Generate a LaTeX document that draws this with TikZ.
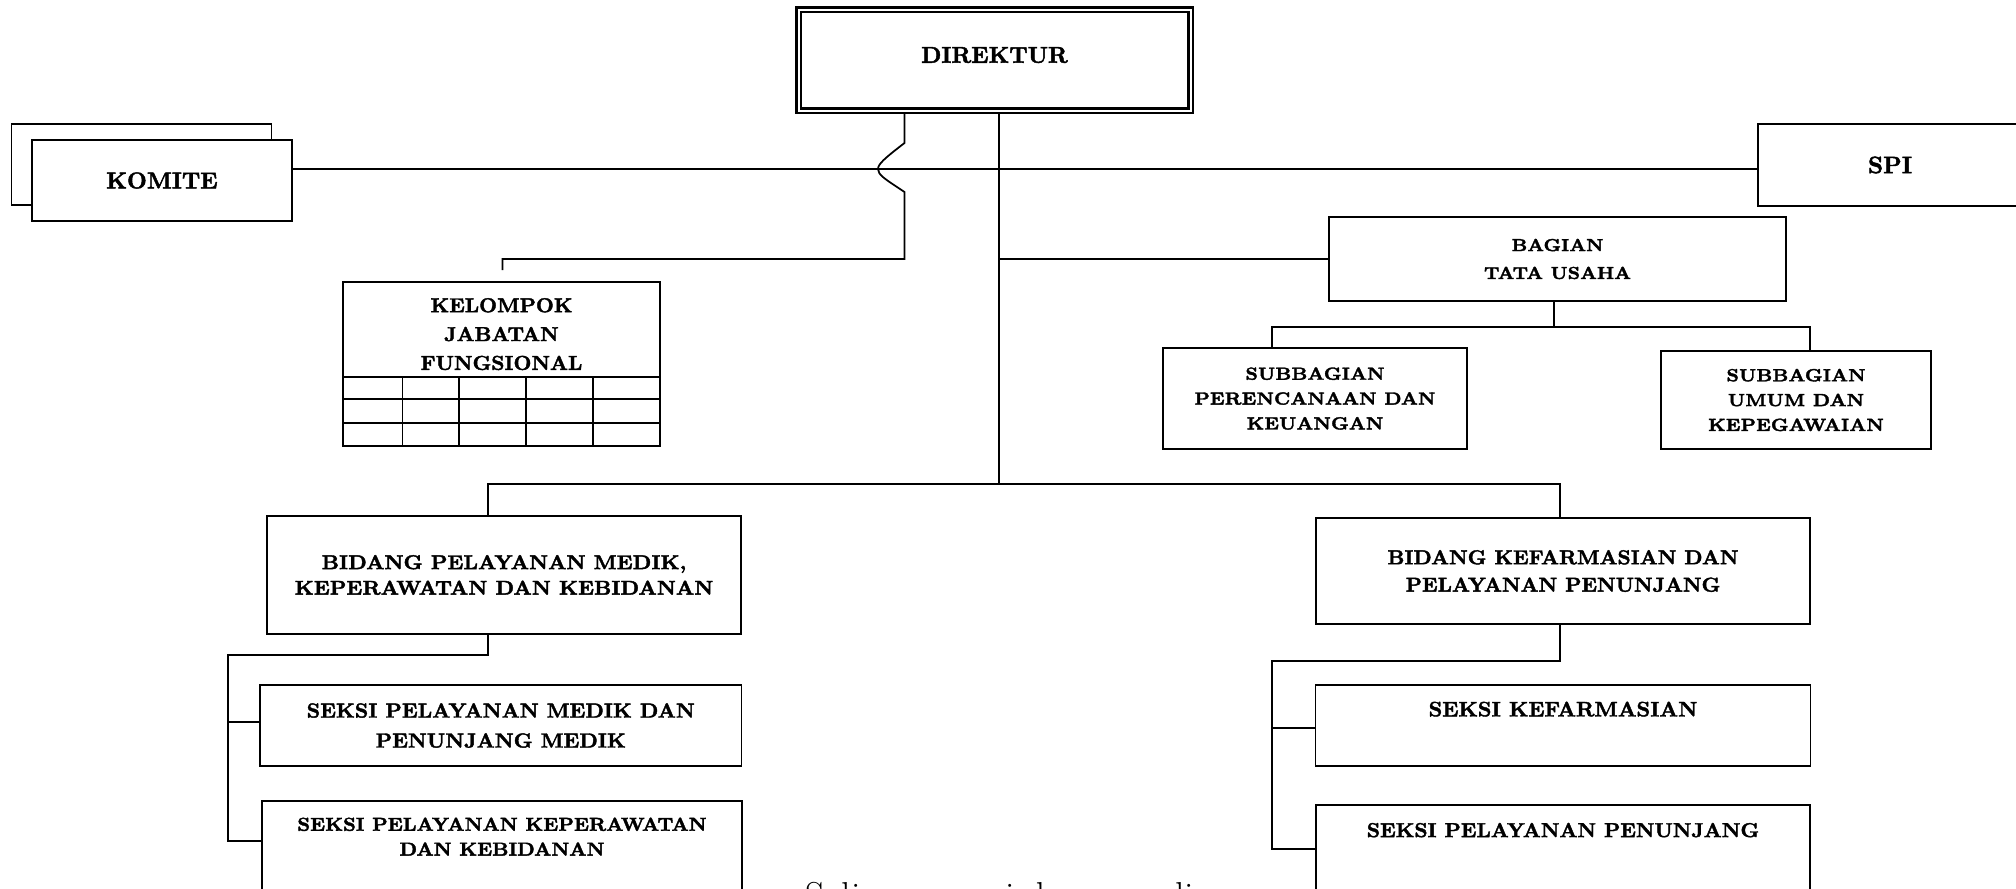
\documentclass[tikz,border=0pt]{standalone}
\usepackage{fontspec}
\setmainfont{Latin Modern Roman}[BoldFeatures={FakeBold=2}]
\usetikzlibrary{calc,shadows}
\tikzset{
  unit/.style={draw, line width=0.75pt, fill=white, align=center, inner sep=0pt},
  sz/.style 2 args={minimum width=#1*0.15mm, minimum height=#2*0.15mm},
  fs/.style 2 args={font=\fontsize{#1}{#2}\selectfont\bfseries, align=center},
  ln/.style={line width=0.75pt},
}

\begin{document}
\begin{tikzpicture}[x=0.15mm, y=-0.15mm]
\useasboundingbox[fill=white] (0,0) rectangle (2016,888);
\node[unit, double, line width=0.37mm, double distance=0.3mm, outer sep=0.52mm, sz={392}{101}] (dir) at (994.5,60) {};
\node[fs={9.8}{12}] (dir-t) at ($(dir.north)+(0,49)$) {DIREKTUR};
\node[unit, copy shadow={shadow xshift=-3.08mm, shadow yshift=2.4mm}, sz={260}{81}, fs={9.8}{12}] (kom) at (162,180.5) {KOMITE};
\node[unit, sz={264}{82}, fs={10.1}{12}] (spi) at (1890,165) {SPI};
\node[unit, sz={317}{164}] (kjf) at (501.5,364) {};
\node[fs={8.6}{12.3}] (kjf-t) at ($(kjf.north)+(0,53)$) {KELOMPOK\\JABATAN\\FUNGSIONAL};
\foreach \y in {377,399,423} \draw[ln] (343,\y) -- (660,\y);
\foreach \x in {402.5,459,526,593} \draw[ln] (\x,377) -- (\x,446);
\node[unit, sz={457}{84}, fs={7.4}{11.9}] (bag) at (1557.5,259) {BAGIAN\\TATA USAHA};
\node[unit, sz={304}{101}, fs={7.5}{10.6}] (sub1) at (1315,398.5) {SUBBAGIAN\\PERENCANAAN DAN\\KEUANGAN};
\node[unit, sz={270}{98}, fs={7.5}{10.6}] (sub2) at (1796,400) {SUBBAGIAN\\UMUM DAN\\KEPEGAWAIAN};
\node[unit, sz={474.5}{118}, fs={8.5}{10.9}] (bid1) at (504,575) {BIDANG PELAYANAN MEDIK,\\KEPERAWATAN DAN KEBIDANAN};
\node[unit, sz={494}{106}, fs={8.6}{11.7}] (bid2) at (1563,571) {BIDANG KEFARMASIAN DAN\\PELAYANAN PENUNJANG};
\node[unit, sz={481.5}{81}, fs={8.7}{12.8}] (sek1) at (500.75,725.5) {SEKSI PELAYANAN MEDIK DAN\\PENUNJANG MEDIK};
\node[unit, sz={480}{110}] (sek2) at (502,856) {};
\node[fs={8}{10.6}] (sek2-t) at ($(sek2.north)+(0,36.5)$) {SEKSI PELAYANAN KEPERAWATAN\\DAN KEBIDANAN};
\node[unit, sz={495}{81}] (kef1) at (1563,725.5) {};
\node[fs={8.9}{11}] (kef1-t) at ($(kef1.north)+(0,25)$) {SEKSI KEFARMASIAN};
\node[unit, sz={494}{106}] (kef2) at (1563,858) {};
\node[fs={8.6}{11}] (kef2-t) at ($(kef2.north)+(0,26)$) {SEKSI PELAYANAN PENUNJANG};
\node[anchor=base west, font=\fontsize{16}{19}\selectfont] (note) at (797,908) {Salinan sesuai dengan aslinya};

\coordinate (trunk) at (999,484);
\coordinate (jl) at (878,169);
\coordinate (jb) at (904.5,259);
\coordinate (kjf-in) at (502.5,270);
\draw[ln] (dir.south -| trunk) -- (trunk);
\draw[ln] (dir.south -| jb) -- (904.5,143) .. controls (885,158) and (878,164) .. (jl)
  .. controls (878,175) and (885,179) .. (904.5,192) -- (jb) -| (kjf-in);
\draw[ln] (kom.east |- jl) -- (spi.west |- jl);
\draw[ln] (bag.west -| trunk) -- (bag.west);

\coordinate (sbL) at (1272,327);
\coordinate (sbM) at (1554,327);
\coordinate (sbR) at (1810,327);
\draw[ln] (bag.south -| sbM) -- (sbM);
\draw[ln] (sub1.north -| sbL) -- (sbL) -- (sbR) -- (sub2.north -| sbR);

\coordinate (busL) at (488,484);
\coordinate (busR) at (1560,484);
\draw[ln] (bid1.north -| busL) -- (busL) -- (busR) -- (bid2.north -| busR);

\coordinate (medL) at (228,655);
\coordinate (m1) at (228,722);
\coordinate (m2) at (228,841);
\draw[ln] (bid1.south -| busL) |- (medL) -- (m2) -- (m2 -| sek2.west);
\draw[ln] (m1) -- (m1 -| sek1.west);

\coordinate (farL) at (1272,661);
\coordinate (f1) at (1272,728);
\coordinate (f2) at (1272,849);
\draw[ln] (bid2.south -| busR) |- (farL) -- (f2) -- (f2 -| kef2.west);
\draw[ln] (f1) -- (f1 -| kef1.west);
\end{tikzpicture}
\end{document}
